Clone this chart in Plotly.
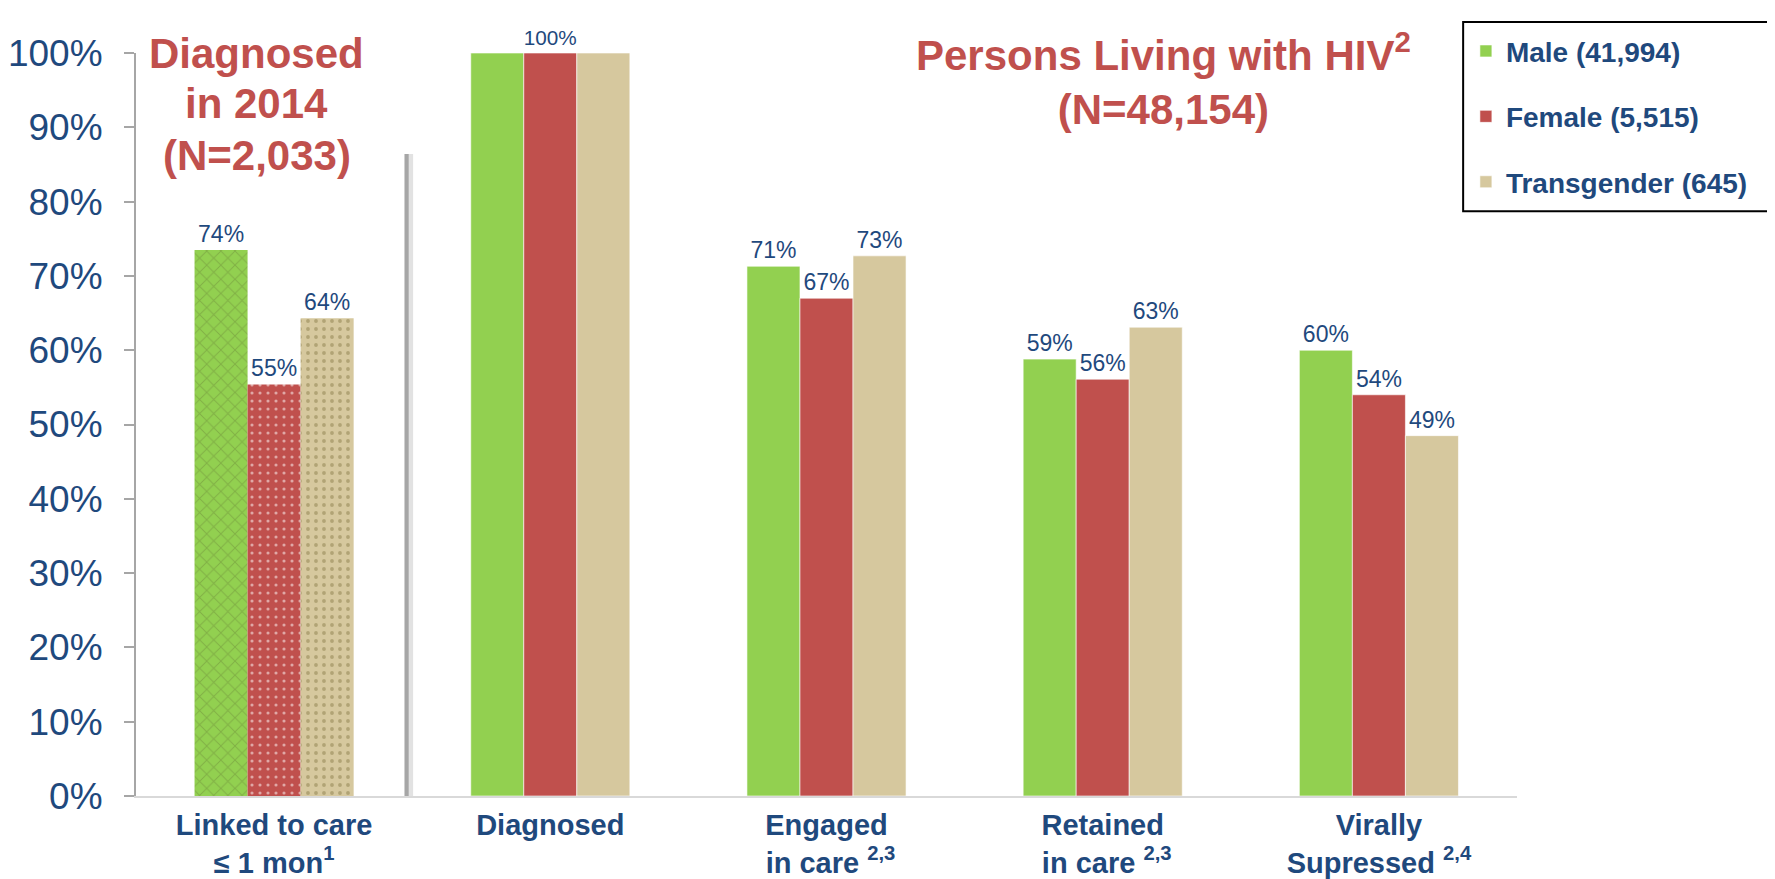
import plotly.graph_objects as go

# categories (x tick labels)
categories = [
    "Linked to care<br>≤ 1 mon<sup>1</sup>",
    "Diagnosed<br> ",
    "Engaged<br> in care <sup>2,3</sup>",
    "Retained<br> in care <sup>2,3</sup>",
    "Virally<br>Supressed <sup>2,4</sup>",
]

# percentages
male = [73.5, 100, 71.3, 58.8, 60.0]
female = [55.4, 100, 67.0, 56.1, 54.0]
transgender = [64.3, 100, 72.7, 63.1, 48.5]

male_lbl = ["74%", "", "71%", "59%", "60%"]
female_lbl = ["55%", "100%", "67%", "56%", "54%"]
trans_lbl = ["64%", "", "73%", "63%", "49%"]

series_names = ["Male (41,994)", "Female (5,515)", "Transgender (645)"]

GREEN = "#92D050"
RED = "#C0504D"
TAN = "#D6C89E"
BLUE = "#1F497D"

colors = [GREEN, RED, TAN]
patterns = [
    dict(shape="x", fgcolor="#6F8F3A", size=10, solidity=0.18),
    dict(shape=".", fgcolor="#FFFFFF", size=8, solidity=0.12),
    dict(shape=".", fgcolor="#8B7D4B", size=8, solidity=0.18),
]
values = [male, female, transgender]
labels = [male_lbl, female_lbl, trans_lbl]

fig = go.Figure()
for i in range(3):
    # plain bars, persons living with HIV
    fig.add_trace(go.Bar(
        x=categories[1:], y=values[i][1:], name=series_names[i],
        text=labels[i][1:], textposition="outside",
        textfont=dict(size=23, color=BLUE, family="Liberation Sans, Arial"),
        marker=dict(color=colors[i], line=dict(color="rgba(255,255,255,0.6)", width=1)),
        offsetgroup=str(i), legendgroup=str(i), cliponaxis=False,
    ))
    # patterned bars, diagnosed in 2014
    fig.add_trace(go.Bar(
        x=categories[:1], y=values[i][:1], name=series_names[i], showlegend=False,
        text=labels[i][:1], textposition="outside",
        textfont=dict(size=23, color=BLUE, family="Liberation Sans, Arial"),
        marker=dict(color=colors[i], pattern=patterns[i], line=dict(width=0)),
        offsetgroup=str(i), legendgroup=str(i), cliponaxis=False,
    ))

# divider between the two panels
fig.add_shape(type="line", x0=0.487, x1=0.487, y0=0, y1=86.4, xref="x", yref="y",
              line=dict(color="rgba(160,160,160,0.3)", width=9), layer="above")
fig.add_shape(type="line", x0=0.48, x1=0.48, y0=0, y1=86.4, xref="x", yref="y",
              line=dict(color="#A6A6A6", width=4), layer="above")

# legend frame, running off the right edge
fig.add_shape(type="rect", xref="paper", yref="paper", x0=0.961, x1=1.2, y0=0.787, y1=1.0417,
              line=dict(color="black", width=2), fillcolor="white", layer="below")

title_font = dict(size=42, color=RED, family="Liberation Sans, Arial")
for txt, yy in [("Diagnosed", 0.999), ("in 2014", 0.932), ("(N=2,033)", 0.862)]:
    fig.add_annotation(text="<b>" + txt + "</b>", xref="paper", yref="paper",
                       x=0.0876, y=yy, xanchor="center", yanchor="middle", showarrow=False,
                       font=title_font)
fig.add_annotation(text="<b>Persons Living with HIV<sup>2</sup><br>(N=48,154)</b>", xref="paper", yref="paper",
                   x=0.744, y=0.965, xanchor="center", yanchor="middle", showarrow=False,
                   font=title_font)

fig.update_layout(
    width=1775, height=879,
    margin=dict(l=128, r=266, t=45, b=91),
    plot_bgcolor="white", paper_bgcolor="white",
    barmode="group", bargap=0.424, bargroupgap=0,
    font=dict(family="Liberation Sans, Arial", color=BLUE),
    legend=dict(
        x=0.963, y=1.036, xanchor="left", yanchor="top",
        borderwidth=0, bgcolor="rgba(0,0,0,0)",
        font=dict(size=28, color=BLUE, family="Liberation Sans, Arial", weight="bold"),
        tracegroupgap=26, itemwidth=30,
    ),
    xaxis=dict(
        type="category", categoryorder="array", categoryarray=categories,
        range=[-0.5, 4.5], showline=True, linecolor="#D9D9D9", linewidth=2,
        ticks="", showgrid=False, ticklabelstandoff=2, automargin=False,
        tickfont=dict(size=29, color=BLUE, family="Liberation Sans, Arial", weight="bold"),
    ),
    yaxis=dict(
        range=[0, 100], dtick=10, ticksuffix="%", showgrid=False, zeroline=False,
        showline=True, linecolor="#A6A6A6", linewidth=2, automargin=False,
        ticks="outside", ticklen=10, tickcolor="#A6A6A6", tickwidth=2,
        tickfont=dict(size=37, color=BLUE, family="Liberation Sans, Arial"),
        ticklabelstandoff=14,
    ),
)

fig.write_html("out.html")
